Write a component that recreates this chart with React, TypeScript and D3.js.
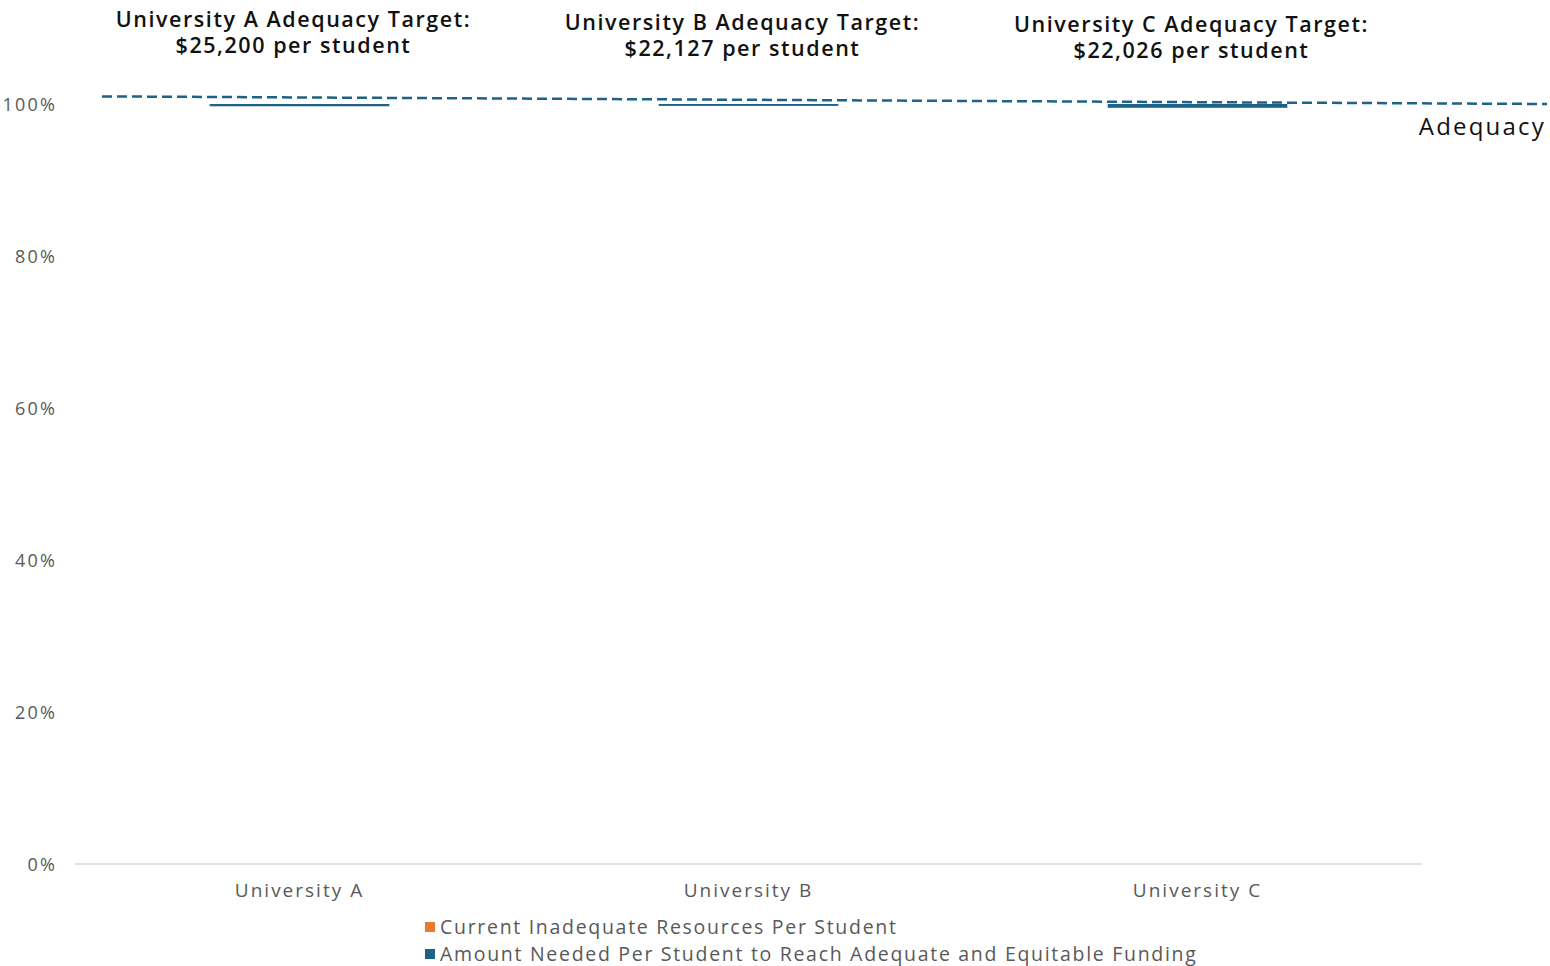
import React from 'react';
import * as d3 from 'd3';

const universities = ['University A', 'University B', 'University C'];
const targetLabels = ['$25,200 per student', '$22,127 per student', '$22,026 per student'];
// share of adequacy target (%)
const currentShare = [99.7, 99.75, 99.5];
const neededShare = [0.3, 0.25, 0.5];
const adequacyStart = 101;
const adequacyEnd = 100;
const yTicks = [0, 20, 40, 60, 80, 100];
const legendItems = [
  { label: 'Current Inadequate Resources Per Student', color: '#e8792f' },
  { label: 'Amount Needed Per Student to Reach Adequate and Equitable Funding', color: '#1f6288' },
];

const W = 1550;
const H = 966;
const font = '"Open Sans", "Noto Sans", sans-serif';

const App: React.FC = () => {
  const x = d3.scaleBand<string>().domain(universities).range([75, 1422]).paddingInner(0.6).paddingOuter(0.3);
  const y = d3.scaleLinear().domain([0, 100]).range([864, 104]);
  const blue = legendItems[1].color;

  const lineX = d3.scaleLinear().domain([0, 1]).range([102, 1547]);
  const lineY = d3.scaleLinear().domain([0, 1]).range([y(adequacyStart), y(adequacyEnd)]);
  const adequacyLine = d3.line<number>().x(t => lineX(t)).y(t => lineY(t));

  return (
    <svg width={W} height={H} style={{ position: 'absolute', left: 0, top: 0, background: '#fff' }}>
      {/* y axis labels */}
      {yTicks.map(t => (
        <text key={t} x={57} y={y(t) + 7} textAnchor="end" fontFamily={font} fontSize={18} letterSpacing={2.2} fill="#595959">
          {t}%
        </text>
      ))}
      {/* baseline */}
      <line x1={75} x2={1422} y1={y(0)} y2={y(0)} stroke="#d9d9d9" strokeWidth={1.5} />

      {/* stacked bars */}
      {universities.map((u, i) => {
        const x0 = x(u)!;
        const bw = x.bandwidth();
        return (
          <g key={u}>
            <rect x={x0} width={bw} y={y(currentShare[i])} height={y(0) - y(currentShare[i])} fill={legendItems[0].color} fillOpacity={0} />
            <rect x={x0} width={bw} y={y(currentShare[i] + neededShare[i])} height={y(currentShare[i]) - y(currentShare[i] + neededShare[i])} fill={blue} />
            <text x={x0 + bw / 2} y={y(0) + 33} textAnchor="middle" fontFamily={font} fontSize={19} letterSpacing={2} fill="#595959">
              {u}
            </text>
          </g>
        );
      })}

      {/* adequacy line */}
      <path d={adequacyLine([0, 1]) || ''} fill="none" stroke={blue} strokeWidth={2.5} strokeDasharray="10 5" />
      <text x={1546} y={135} textAnchor="end" fontFamily={font} fontSize={24} letterSpacing={2.2} fill="#111">
        Adequacy
      </text>

      {/* target annotations */}
      {universities.map((u, i) => {
        const cx = x(u)! + x.bandwidth() / 2 - 6;
        const ly = lineY((cx - 102) / (1547 - 102)) - 70;
        return (
          <text key={u} x={cx} textAnchor="middle" fontFamily={font} fontSize={21.5} fontWeight={600} letterSpacing={1.55} fill="#111">
            <tspan x={cx} y={ly}>{u} Adequacy Target:</tspan>
            <tspan x={cx} y={ly + 26}>{targetLabels[i]}</tspan>
          </text>
        );
      })}

      {/* legend */}
      {legendItems.map((l, i) => (
        <g key={l.label}>
          <rect x={425} y={922 + i * 27} width={10} height={10} fill={l.color} />
          <text x={440} y={934 + i * 27} fontFamily={font} fontSize={19.5} letterSpacing={1.7} fill="#595959">
            {l.label}
          </text>
        </g>
      ))}
    </svg>
  );
};

export default App;
